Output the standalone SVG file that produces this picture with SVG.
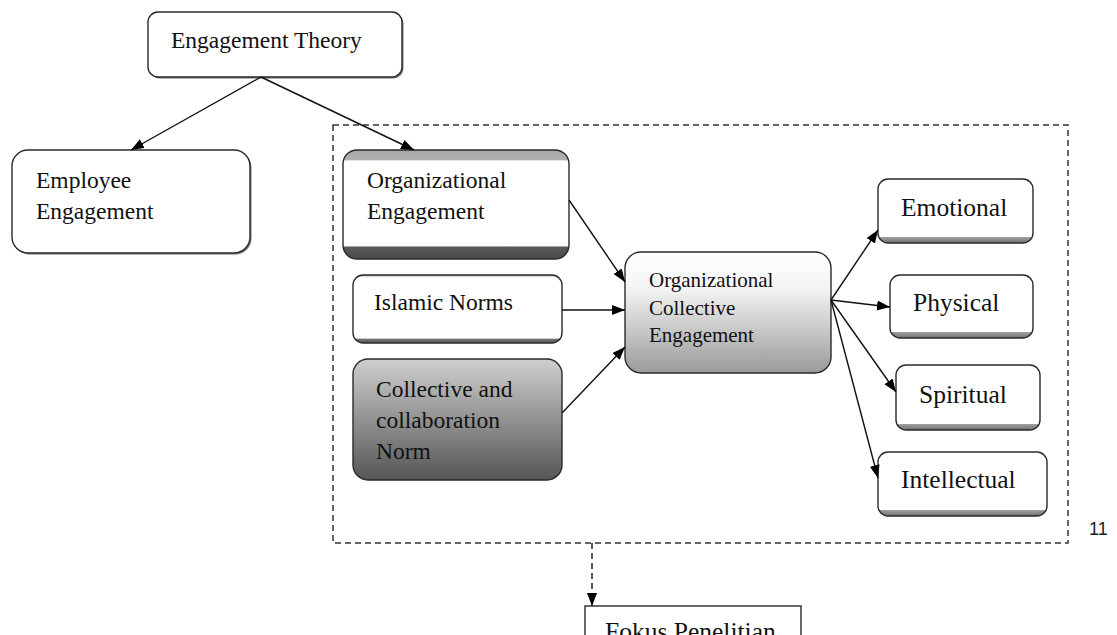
<svg xmlns="http://www.w3.org/2000/svg" width="1117" height="635" viewBox="0 0 1117 635">
<style>
.box{stroke:#2a2a2a;stroke-width:1.4;}
.shadow{fill:#777;}
.t{font-family:"Liberation Serif","Times New Roman",serif;fill:#111;}
.t23{font-size:23.5px;}
.t21{font-size:21px;}
.t25{font-size:25.5px;}
.conn{stroke:#111;stroke-width:1.4;fill:none;}
</style>
<defs>
<marker id="ah" markerUnits="userSpaceOnUse" markerWidth="15" markerHeight="12" refX="13" refY="5" orient="auto">
<path d="M0,0 L13,5 L0,10 z" fill="#000"/>
</marker>
<linearGradient id="gOrg" x1="0" y1="0" x2="0" y2="1">
<stop offset="0" stop-color="#a6a6a6"/>
<stop offset="0.09" stop-color="#b0b0b0"/>
<stop offset="0.1" stop-color="#ffffff"/>
<stop offset="0.88" stop-color="#ffffff"/>
<stop offset="0.89" stop-color="#5a5a5a"/>
<stop offset="1" stop-color="#4a4a4a"/>
</linearGradient>
<linearGradient id="gIsl" x1="0" y1="0" x2="0" y2="1">
<stop offset="0" stop-color="#b0b0b0"/>
<stop offset="0.04" stop-color="#ffffff"/>
<stop offset="0.93" stop-color="#ffffff"/>
<stop offset="0.94" stop-color="#777"/>
<stop offset="1" stop-color="#555"/>
</linearGradient>
<linearGradient id="gCol" x1="0" y1="0" x2="0" y2="1">
<stop offset="0" stop-color="#cfcfcf"/>
<stop offset="1" stop-color="#555555"/>
</linearGradient>
<linearGradient id="gOce" x1="0" y1="0" x2="0" y2="1">
<stop offset="0" stop-color="#ffffff"/>
<stop offset="0.3" stop-color="#f4f4f4"/>
<stop offset="1" stop-color="#9a9a9a"/>
</linearGradient>
<linearGradient id="gDim" x1="0" y1="0" x2="0" y2="1">
<stop offset="0" stop-color="#ffffff"/>
<stop offset="0.9" stop-color="#ffffff"/>
<stop offset="0.91" stop-color="#a0a0a0"/>
<stop offset="1" stop-color="#707070"/>
</linearGradient>
</defs>

<rect x="333" y="125" width="735" height="418" fill="none" stroke="#333" stroke-width="1.5" stroke-dasharray="6,4"/>

<g id="engagement-theory">
<rect x="149.5" y="13.5" width="254" height="65" rx="10" class="shadow"/>
<rect x="148" y="12" width="254" height="65" rx="10" fill="#fff" class="box"/>
<text x="171" y="48" class="t t23">Engagement Theory</text>
</g>

<g id="employee-engagement">
<rect x="13.5" y="151.5" width="238" height="103" rx="16" class="shadow"/>
<rect x="12" y="150" width="238" height="103" rx="16" fill="#fff" class="box"/>
<text x="36" y="188" class="t t23">Employee</text>
<text x="36" y="219" class="t t23">Engagement</text>
</g>

<g id="organizational-engagement">
<rect x="343" y="150" width="226" height="109" rx="14" fill="url(#gOrg)" class="box"/>
<text x="367" y="188" class="t t23">Organizational</text>
<text x="367" y="219" class="t t23">Engagement</text>
</g>

<g id="islamic-norms">
<rect x="353" y="275" width="209" height="68" rx="10" fill="url(#gIsl)" class="box"/>
<text x="374" y="310" class="t t23">Islamic Norms</text>
</g>

<g id="collective-norm">
<rect x="353" y="359" width="209" height="121" rx="15" fill="url(#gCol)" class="box"/>
<text x="376" y="397" class="t t23">Collective and</text>
<text x="376" y="428" class="t t23">collaboration</text>
<text x="376" y="459" class="t t23">Norm</text>
</g>

<g id="org-collective-engagement">
<rect x="625" y="252" width="206" height="121" rx="16" fill="url(#gOce)" class="box"/>
<text x="649" y="287" class="t t21">Organizational</text>
<text x="649" y="315" class="t t21">Collective</text>
<text x="649" y="342" class="t t21">Engagement</text>
</g>

<g id="emotional">
<rect x="878" y="179" width="155" height="64" rx="10" fill="url(#gDim)" class="box"/>
<text x="901" y="216" class="t t25">Emotional</text>
</g>

<g id="physical">
<rect x="890" y="275" width="143" height="63" rx="10" fill="url(#gDim)" class="box"/>
<text x="913" y="311" class="t t25">Physical</text>
</g>

<g id="spiritual">
<rect x="896" y="365" width="144" height="65" rx="10" fill="url(#gDim)" class="box"/>
<text x="919" y="403" class="t t25">Spiritual</text>
</g>

<g id="intellectual">
<rect x="878" y="452" width="169" height="64" rx="10" fill="url(#gDim)" class="box"/>
<text x="901" y="488" class="t t25">Intellectual</text>
</g>

<g id="fokus-penelitian">
<rect x="585" y="606" width="216" height="60" fill="#fff" class="box"/>
<text x="605" y="640" class="t t25">Fokus Penelitian</text>
</g>

<text x="1089" y="535" font-family="'Liberation Sans',Arial,sans-serif" font-size="18" fill="#222">11</text>

<g id="connectors">
<line x1="261" y1="77" x2="131" y2="150" class="conn" marker-end="url(#ah)"/>
<line x1="261" y1="77" x2="414" y2="150" class="conn" marker-end="url(#ah)"/>
<line x1="569" y1="200" x2="625" y2="282" class="conn" marker-end="url(#ah)"/>
<line x1="562" y1="310" x2="625" y2="310" class="conn" marker-end="url(#ah)"/>
<line x1="562" y1="413" x2="625" y2="347" class="conn" marker-end="url(#ah)"/>
<line x1="831" y1="300" x2="878" y2="230" class="conn" marker-end="url(#ah)"/>
<line x1="831" y1="300" x2="890" y2="307" class="conn" marker-end="url(#ah)"/>
<line x1="831" y1="300" x2="896" y2="392" class="conn" marker-end="url(#ah)"/>
<line x1="831" y1="300" x2="878" y2="478" class="conn" marker-end="url(#ah)"/>
<line x1="592" y1="543" x2="592" y2="606" class="conn" stroke-dasharray="6,4" marker-end="url(#ah)"/>
</g>
</svg>
